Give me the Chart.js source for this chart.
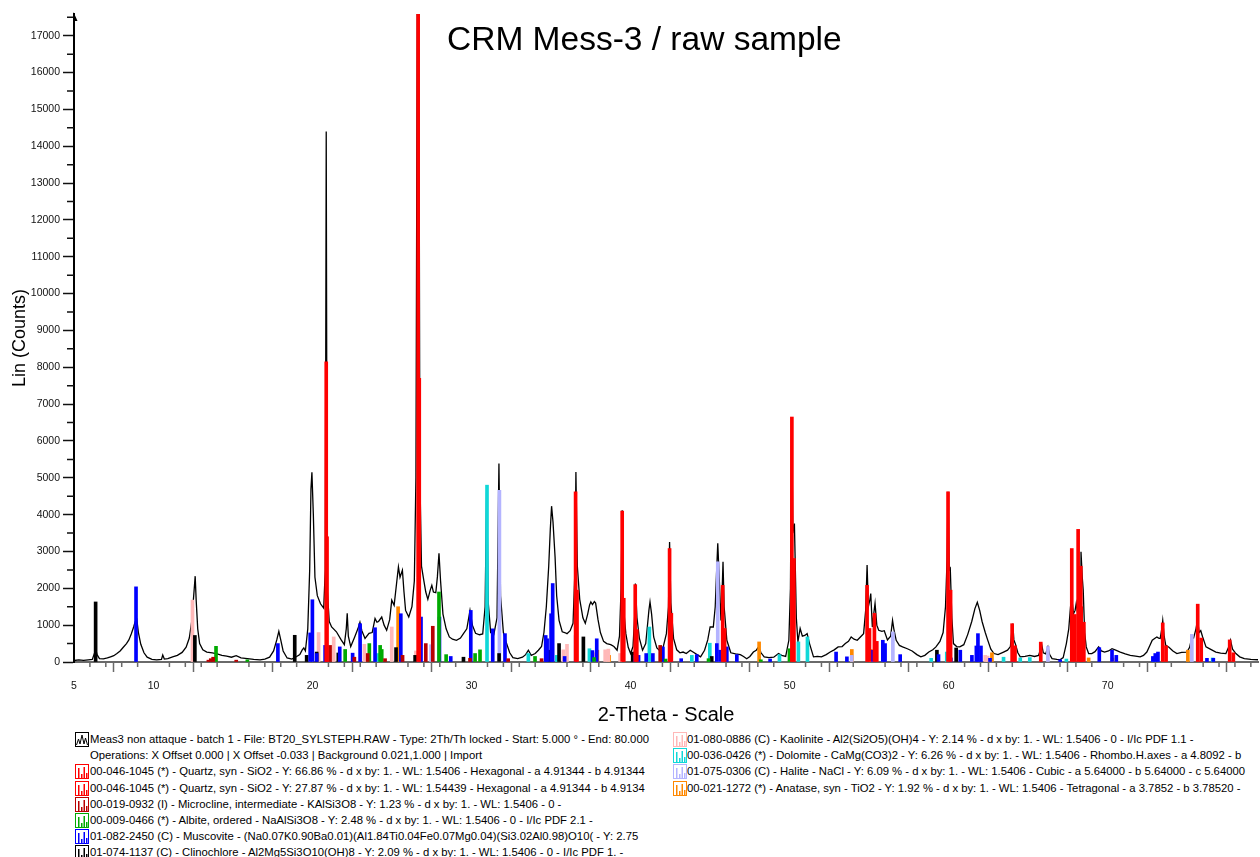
<!DOCTYPE html>
<html>
<head>
<meta charset="utf-8">
<title>CRM Mess-3 / raw sample</title>
<script src="https://cdn.jsdelivr.net/npm/chart.js@4.4.1/dist/chart.umd.min.js"></script>
<style>
  html, body { margin: 0; padding: 0; background: #fff; }
  body { font-family: "Liberation Sans", Arial, sans-serif; color: #000; }
  #wrap { position: relative; width: 1260px; height: 857px; overflow: hidden; }
  #xrd { position: absolute; left: 0; top: 0; }
  #title { position: absolute; left: 447px; top: 22px; font-size: 33.5px; line-height: 33px; white-space: nowrap; }
  .row { position: absolute; font-size: 11.3px; line-height: 16px; white-space: nowrap; }
  .row svg { position: absolute; top: 1px; }
</style>
</head>
<body>
<div id="wrap">
  <canvas id="xrd" width="1260" height="730"></canvas>
  <div id="title">CRM Mess-3 / raw sample</div>
  <div id="legend"></div>
</div>
<script>
// Measured scan: 2-theta (deg) and intensity (counts)
const measAngle = [
  5.0, 5.3, 5.6, 5.9, 6.15, 6.3, 6.36, 6.45, 6.6, 6.85, 7.1, 7.3, 7.5, 7.7, 7.9, 8.1, 8.3, 8.45, 8.6, 8.75,
  8.85, 8.95, 9.05, 9.2, 9.4, 9.6, 9.9, 10.2, 10.5, 10.58, 10.68, 10.9, 11.2, 11.5, 11.8, 12.05, 12.25, 12.4, 12.5, 12.58,
  12.62, 12.68, 12.78, 12.9, 13.1, 13.35, 13.7, 14.0, 14.3, 14.6, 14.9, 15.2, 15.5, 15.9, 16.3, 16.7, 17.0, 17.3, 17.55, 17.75,
  17.88, 18.0, 18.15, 18.4, 18.7, 19.0, 19.2, 19.35, 19.45, 19.55, 19.7, 19.82, 19.9, 19.96, 20.05, 20.15, 20.3, 20.5, 20.7, 20.8,
  20.86, 20.92, 21.05, 21.2, 21.5, 21.8, 22.0, 22.12, 22.18, 22.25, 22.4, 22.65, 22.85, 22.98, 23.1, 23.3, 23.55, 23.75, 23.93, 24.05,
  24.15, 24.35, 24.5, 24.66, 24.85, 24.98, 25.13, 25.3, 25.4, 25.5, 25.65, 25.75, 25.85, 26.05, 26.25, 26.4, 26.5, 26.64, 26.75, 26.85,
  27.0, 27.12, 27.25, 27.4, 27.5, 27.6, 27.75, 27.85, 27.95, 28.05, 28.2, 28.4, 28.6, 28.8, 29.05, 29.3, 29.5, 29.7, 29.9, 30.05,
  30.25, 30.5, 30.7, 30.85, 30.95, 31.05, 31.2, 31.4, 31.6, 31.72, 31.82, 32.0, 32.2, 32.4, 32.6, 32.9, 33.2, 33.4, 33.57, 33.75,
  34.0, 34.2, 34.4, 34.55, 34.7, 34.85, 34.95, 35.03, 35.12, 35.25, 35.35, 35.5, 35.7, 35.85, 36.0, 36.2, 36.38, 36.5, 36.56, 36.65,
  36.8, 37.0, 37.15, 37.3, 37.42, 37.5, 37.6, 37.72, 37.8, 37.95, 38.1, 38.3, 38.5, 38.75, 38.95, 39.15, 39.3, 39.4, 39.47, 39.55,
  39.7, 39.85, 40.0, 40.15, 40.25, 40.3, 40.4, 40.55, 40.75, 40.95, 41.05, 41.15, 41.22, 41.32, 41.45, 41.65, 41.8, 42.05, 42.25, 42.38,
  42.45, 42.53, 42.7, 42.9, 43.1, 43.3, 43.5, 43.75, 44.0, 44.25, 44.4, 44.65, 44.85, 45.0, 45.2, 45.32, 45.42, 45.48, 45.58, 45.68,
  45.76, 45.81, 45.88, 46.05, 46.3, 46.6, 46.9, 47.1, 47.3, 47.5, 47.72, 47.9, 48.05, 48.2, 48.4, 48.7, 49.0, 49.3, 49.5, 49.75,
  49.95, 50.05, 50.13, 50.2, 50.3, 50.42, 50.52, 50.66, 50.8, 50.95, 51.1, 51.25, 51.5, 51.75, 52.0, 52.3, 52.55, 52.8, 53.05, 53.3,
  53.5, 53.7, 53.87, 54.05, 54.25, 54.45, 54.65, 54.78, 54.87, 54.95, 55.05, 55.1, 55.2, 55.3, 55.37, 55.48, 55.6, 55.8, 55.95, 56.15,
  56.35, 56.47, 56.55, 56.7, 56.9, 57.1, 57.4, 57.7, 58.0, 58.25, 58.5, 58.75, 59.0, 59.2, 59.45, 59.65, 59.8, 59.9, 59.96, 60.04,
  60.1, 60.2, 60.3, 60.5, 60.7, 60.95, 61.2, 61.45, 61.65, 61.8, 61.95, 62.1, 62.3, 62.45, 62.65, 62.85, 63.1, 63.45, 63.7, 63.88,
  63.96, 64.03, 64.1, 64.2, 64.35, 64.5, 64.8, 65.1, 65.4, 65.65, 65.78, 65.86, 65.95, 66.1, 66.24, 66.35, 66.5, 66.8, 67.0, 67.2,
  67.4, 67.55, 67.66, 67.75, 67.85, 67.95, 68.02, 68.1, 68.18, 68.27, 68.32, 68.4, 68.46, 68.55, 68.65, 68.8, 69.0, 69.2, 69.43, 69.6,
  69.8, 70.05, 70.27, 70.5, 70.79, 71.1, 71.42, 71.75, 72.04, 72.25, 72.46, 72.65, 72.8, 72.95, 73.09, 73.2, 73.3, 73.4, 73.46, 73.55,
  73.65, 73.85, 74.1, 74.35, 74.65, 74.98, 75.15, 75.29, 75.4, 75.55, 75.65, 75.75, 75.85, 75.97, 76.18, 76.45, 76.8, 77.1, 77.43, 77.6,
  77.72, 77.85, 78.06, 78.3, 78.59, 79.0, 79.5
];
const measCounts = [
  40, 55, 45, 60, 70, 250, 360, 200, 90, 85, 110, 140, 170, 230, 300, 400, 500, 600, 760, 950,
  1100, 1150, 800, 480, 250, 130, 70, 60, 70, 190, 80, 90, 140, 180, 260, 400, 650, 1100, 1650, 2100,
  2330, 1700, 900, 500, 330, 270, 250, 220, 180, 160, 130, 170, 110, 90, 70, 60, 80, 130, 300, 600,
  830, 600, 300, 110, 80, 150, 200, 330, 380, 300, 900, 2500, 4700, 5150, 4000, 2300, 1800, 1580, 1460, 2500,
  14400, 2000, 1100, 950, 820, 600, 470, 900, 1320, 700, 420, 680, 900, 1080, 850, 640, 780, 800, 1180, 1080,
  1100, 1220, 1000, 860, 1150, 1680, 1540, 2200, 2580, 2300, 2490, 1900, 1400, 1220, 1500, 2200, 5000, 26000, 5000, 2600,
  2200, 1900, 1700, 1950, 2080, 1900, 1880, 2310, 2950, 2200, 1300, 900, 680, 620, 590, 650, 780, 900, 1400, 1000,
  780, 740, 760, 1500, 4800, 1600, 800, 750, 1200, 5390, 1800, 800, 500, 250, 120, 90, 130, 200, 320, 180,
  230, 320, 420, 800, 1500, 2600, 3600, 4230, 3800, 2850, 1800, 1130, 820, 800, 770, 850, 1050, 2500, 5160, 2600,
  1700, 1200, 1050, 1300, 1550, 1630, 1560, 1640, 1600, 1150, 800, 560, 500, 470, 420, 320, 700, 2000, 4120, 1500,
  770, 400, 230, 420, 1200, 2130, 1200, 650, 320, 500, 950, 1400, 1630, 1300, 680, 380, 320, 410, 770, 1500,
  3260, 1600, 640, 330, 250, 270, 230, 320, 250, 180, 140, 320, 600, 950, 950, 1500, 2600, 3220, 2200, 1130,
  2000, 2720, 1500, 590, 250, 220, 200, 150, 90, 150, 270, 320, 410, 250, 140, 120, 130, 230, 180, 150,
  590, 2000, 6650, 3500, 3760, 1200, 550, 910, 700, 720, 770, 500, 140, 150, 140, 200, 270, 330, 410, 420,
  500, 560, 680, 620, 590, 680, 770, 1400, 2630, 1500, 1700, 1860, 950, 1350, 1590, 1000, 860, 830, 850, 600,
  700, 1130, 900, 590, 450, 410, 360, 300, 200, 140, 180, 270, 330, 410, 560, 800, 1500, 2800, 4620, 2500,
  2540, 1200, 500, 420, 410, 470, 750, 1100, 1450, 1620, 1400, 1100, 800, 600, 350, 230, 200, 270, 320, 420,
  800, 1040, 600, 480, 250, 140, 150, 180, 150, 180, 350, 450, 250, 220, 410, 200, 90, 70, 60, 120,
  500, 900, 1500, 1700, 1310, 1400, 1590, 1350, 1300, 2200, 2990, 2300, 1950, 800, 410, 230, 230, 280, 410, 300,
  270, 300, 360, 320, 270, 220, 180, 160, 140, 180, 270, 450, 590, 640, 680, 650, 640, 900, 1130, 700,
  450, 400, 300, 230, 260, 270, 400, 680, 650, 900, 1150, 800, 850, 680, 410, 350, 270, 240, 230, 400,
  590, 350, 230, 140, 90, 70, 60
];

// Reference stick patterns, one pair of arrays per phase
const quartzAngle = [20.86, 26.64, 36.54, 39.47, 40.29, 42.45, 45.79, 50.14, 54.87, 55.33, 59.96, 63.99, 65.79, 67.74, 68.14, 68.31, 73.46, 75.66, 77.67];
const quartzCounts = [8150, 18500, 4620, 4100, 2100, 3080, 2080, 6650, 2080, 1320, 4620, 1040, 540, 3080, 3600, 2600, 1060, 1570, 600];

const quartzA2Angle = [20.91, 26.71, 36.63, 39.57, 40.39, 42.56, 45.91, 50.27, 55.02, 55.48, 60.12, 64.17, 67.93, 68.33, 68.5, 73.67, 75.88, 77.9];
const quartzA2Counts = [3400, 7700, 1950, 1730, 880, 1320, 910, 2810, 910, 560, 1950, 440, 1290, 1500, 1080, 440, 650, 250];

const microclineAngle = [13.45, 13.6, 13.75, 15.2, 21.1, 22.63, 23.47, 24.56, 25.66, 27.12, 27.56, 29.9, 32.3, 34.4, 41.86];
const microclineCounts = [50, 90, 130, 50, 450, 130, 230, 90, 180, 500, 970, 100, 90, 90, 450];

const albiteAngle = [13.93, 15.9, 22.05, 23.57, 24.25, 24.35, 27.95, 28.4, 30.22, 30.53, 33.99, 37.7, 42.2, 44.9, 48.19, 49.99];
const albiteCounts = [425, 60, 340, 500, 450, 340, 1900, 200, 230, 330, 150, 120, 80, 90, 60, 360];

const muscoviteAngle = [8.9, 17.82, 19.85, 19.99, 20.26, 20.79, 21.71, 22.52, 22.99, 23.93, 25.55, 26.7, 26.82, 27.98, 28.69, 29.95, 31.33, 32.1,
  34.66, 34.75, 35.0, 35.1, 35.85, 36.55, 37.6, 37.87, 40.28, 40.5, 40.98, 41.4, 42.03, 42.53, 43.18, 44.16, 45.42, 45.63, 46.05, 46.68,
  48.77, 52.92, 53.6, 55.23, 55.86, 56.0, 56.95, 59.36, 60.14, 60.73, 61.46, 61.74, 61.84, 62.03, 62.6, 64.04, 67.01, 69.47, 70.27, 70.54,
  72.84, 72.99, 73.16, 76.24, 76.64];
const muscoviteCounts = [2040, 500, 790, 1690, 230, 450, 410, 240, 1040, 930, 1310, 1130, 1220, 1220, 150, 1400, 900, 770,
  720, 630, 1310, 2130, 150, 720, 310, 630, 180, 180, 230, 230, 410, 720, 90, 200, 500, 320, 410, 200,
  80, 270, 140, 320, 590, 500, 200, 200, 110, 320, 180, 435, 770, 435, 100, 110, 60, 390, 320, 180,
  150, 230, 270, 100, 100];

const clinochloreAngle = [6.36, 12.6, 18.88, 19.63, 20.26, 21.62, 25.25, 26.45, 29.49, 31.73, 34.9, 35.5, 37.03, 40.13, 45.1, 59.26, 60.47];
const clinochloreCounts = [1630, 720, 725, 180, 270, 245, 390, 180, 130, 230, 320, 500, 680, 270, 150, 320, 380];

const kaoliniteAngle = [12.45, 19.9, 20.38, 21.33, 23.26, 24.98, 26.5, 34.95, 35.77, 36.0, 37.7, 38.4, 38.6, 39.34, 45.6, 55.2, 62.3, 62.45];
const kaoliniteCounts = [1680, 350, 800, 680, 480, 950, 300, 200, 330, 480, 250, 330, 350, 230, 150, 120, 180, 160];

const dolomiteAngle = [24.1, 30.97, 33.57, 35.36, 37.41, 41.18, 43.85, 44.98, 49.36, 50.55, 51.12, 58.9, 59.88, 63.45, 64.5, 65.1, 67.4, 72.9, 76.6];
const dolomiteCounts = [230, 4800, 230, 180, 360, 950, 180, 510, 200, 545, 680, 100, 270, 130, 110, 120, 80, 90, 110];

const haliteAngle = [27.45, 31.75, 45.48, 53.9, 56.49, 66.24, 75.29];
const haliteCounts = [470, 4660, 2720, 180, 815, 420, 750];

const anataseAngle = [25.38, 37.91, 38.65, 48.08, 53.91, 55.1, 62.72, 68.8, 70.3, 75.04];
const anataseCounts = [1500, 320, 180, 545, 340, 340, 250, 110, 110, 320];

// Axis ticks
const xMajorTicks = [5, 10, 15, 20, 25, 30, 35, 40, 45, 50, 55, 60, 65, 70, 75];
const xTickLabels = [5, 10, 20, 30, 40, 50, 60, 70];
const yMajorTicks = [0, 1000, 2000, 3000, 4000, 5000, 6000, 7000, 8000, 9000, 10000, 11000, 12000, 13000, 14000, 15000, 16000, 17000];

const legendLeft = [
  { color: '#000000', kind: 'scan', text: 'Meas3 non attaque - batch 1 - File: BT20_SYLSTEPH.RAW - Type: 2Th/Th locked - Start: 5.000 ° - End: 80.000' },
  { color: null, text: 'Operations: X Offset 0.000 | X Offset -0.033 | Background 0.021,1.000 | Import' },
  { color: '#ff0000', text: '00-046-1045 (*) - Quartz, syn - SiO2 - Y: 66.86 % - d x by: 1. - WL: 1.5406 - Hexagonal - a 4.91344 - b 4.91344' },
  { color: '#ff0000', text: '00-046-1045 (*) - Quartz, syn - SiO2 - Y: 27.87 % - d x by: 1. - WL: 1.54439 - Hexagonal - a 4.91344 - b 4.9134' },
  { color: '#b80000', text: '00-019-0932 (I) - Microcline, intermediate - KAlSi3O8 - Y: 1.23 % - d x by: 1. - WL: 1.5406 - 0 -' },
  { color: '#00aa00', text: '00-009-0466 (*) - Albite, ordered - NaAlSi3O8 - Y: 2.48 % - d x by: 1. - WL: 1.5406 - 0 - I/Ic PDF 2.1 -' },
  { color: '#0000ff', text: '01-082-2450 (C) - Muscovite - (Na0.07K0.90Ba0.01)(Al1.84Ti0.04Fe0.07Mg0.04)(Si3.02Al0.98)O10( - Y: 2.75' },
  { color: '#000000', text: '01-074-1137 (C) - Clinochlore - Al2Mg5Si3O10(OH)8 - Y: 2.09 % - d x by: 1. - WL: 1.5406 - 0 - I/Ic PDF 1. -' }
];
const legendRight = [
  { color: '#ffb8b8', text: '01-080-0886 (C) - Kaolinite - Al2(Si2O5)(OH)4 - Y: 2.14 % - d x by: 1. - WL: 1.5406 - 0 - I/Ic PDF 1.1 -' },
  { color: '#10d8d8', text: '00-036-0426 (*) - Dolomite - CaMg(CO3)2 - Y: 6.26 % - d x by: 1. - WL: 1.5406 - Rhombo.H.axes - a 4.8092 - b' },
  { color: '#b4b4ff', text: '01-075-0306 (C) - Halite - NaCl - Y: 6.09 % - d x by: 1. - WL: 1.5406 - Cubic - a 5.64000 - b 5.64000 - c 5.64000' },
  { color: '#ff8800', text: '00-021-1272 (*) - Anatase, syn - TiO2 - Y: 1.92 % - d x by: 1. - WL: 1.5406 - Tetragonal - a 3.7852 - b 3.78520 -' }
];

const phases = [
  { name: 'Quartz', color: '#ff0000', angle: quartzAngle, counts: quartzCounts },
  { name: 'Quartz (Ka2)', color: '#ff0000', angle: quartzA2Angle, counts: quartzA2Counts },
  { name: 'Microcline', color: '#b80000', angle: microclineAngle, counts: microclineCounts },
  { name: 'Albite', color: '#00aa00', angle: albiteAngle, counts: albiteCounts },
  { name: 'Muscovite', color: '#0000ff', angle: muscoviteAngle, counts: muscoviteCounts },
  { name: 'Clinochlore', color: '#000000', angle: clinochloreAngle, counts: clinochloreCounts },
  { name: 'Kaolinite', color: '#ffb8b8', angle: kaoliniteAngle, counts: kaoliniteCounts },
  { name: 'Dolomite', color: '#10d8d8', angle: dolomiteAngle, counts: dolomiteCounts },
  { name: 'Halite', color: '#b4b4ff', angle: haliteAngle, counts: haliteCounts },
  { name: 'Anatase', color: '#ff8800', angle: anataseAngle, counts: anataseCounts }
];

const toPoints = (xs, ys) => xs.map((x, i) => ({ x: x, y: ys[i] }));

const stickSets = phases.map((p, i) => ({
  type: 'bar',
  label: p.name,
  data: toPoints(p.angle, p.counts),
  backgroundColor: p.color,
  borderWidth: 0,
  barThickness: 3,
  order: 1 + i
}));

const scanSet = {
  type: 'line',
  label: 'Meas3',
  data: toPoints(measAngle, measCounts),
  borderColor: '#000',
  borderWidth: 1.3,
  pointRadius: 0,
  tension: 0,
  order: 50
};

// minor ticks, axis arrow
const axisExtras = {
  id: 'axisExtras',
  afterDraw(chart) {
    const { ctx, chartArea, scales } = chart;
    const x = scales.x, y = scales.y;
    ctx.save();
    ctx.lineWidth = 1.5;
    ctx.strokeStyle = '#6a6a6a';
    ctx.beginPath();
    for (let v = 6; v <= x.max; v++) {
      if (v % 5 === 0) continue;
      const px = x.getPixelForValue(v);
      ctx.moveTo(px, chartArea.bottom);
      ctx.lineTo(px, chartArea.bottom + 5);
    }
    ctx.stroke();
    ctx.strokeStyle = '#111';
    ctx.beginPath();
    for (let v = 500; v < y.max; v += 1000) {
      const py = y.getPixelForValue(v);
      ctx.moveTo(chartArea.left - 7, py);
      ctx.lineTo(chartArea.left, py);
    }
    ctx.stroke();
    ctx.fillStyle = '#000';
    ctx.beginPath();
    ctx.moveTo(chartArea.left - 0.5, chartArea.top - 2);
    ctx.lineTo(chartArea.left + 3.5, chartArea.top + 7);
    ctx.lineTo(chartArea.left - 0.5, chartArea.top + 7);
    ctx.closePath();
    ctx.fill();
    ctx.restore();
  }
};

new Chart(document.getElementById('xrd'), {
  type: 'bar',
  data: { datasets: [...stickSets, scanSet] },
  options: {
    responsive: false,
    animation: false,
    events: [],
    layout: { padding: { top: 14, right: 2, left: 0, bottom: 0 } },
    datasets: { bar: { grouped: false } },
    plugins: { legend: { display: false }, tooltip: { enabled: false } },
    scales: {
      x: {
        type: 'linear',
        min: 5,
        max: 79.45,
        offset: false,
        afterFit: (s) => { s.height = 68; },
        afterBuildTicks: (s) => { s.ticks = xMajorTicks.map(v => ({ value: v })); },
        grid: { drawOnChartArea: false, tickLength: 10, tickWidth: 1.5, tickColor: '#6a6a6a' },
        border: { color: '#6a6a6a', width: 2 },
        ticks: {
          autoSkip: false,
          maxRotation: 0,
          padding: 8,
          color: '#111',
          font: { family: 'Liberation Sans', size: 10.5 },
          callback: (v) => xTickLabels.includes(v) ? String(v) : ''
        },
        title: {
          display: true,
          text: '2-Theta - Scale',
          color: '#000',
          font: { family: 'Liberation Sans', size: 20 },
          padding: { top: 0, bottom: 3 }
        }
      },
      y: {
        min: 0,
        max: 17590,
        afterFit: (s) => { s.width = 74; },
        afterBuildTicks: (s) => { s.ticks = yMajorTicks.map(v => ({ value: v })); },
        grid: { drawOnChartArea: false, tickLength: 11, tickWidth: 1.5, tickColor: '#111' },
        border: { color: '#000', width: 2 },
        ticks: {
          padding: 3,
          color: '#111',
          font: { family: 'Liberation Sans', size: 10.5 },
          callback: (v) => String(v)
        },
        title: {
          display: true,
          text: 'Lin (Counts)',
          color: '#000',
          font: { family: 'Liberation Sans', size: 18 },
          padding: { top: 9, bottom: 0 }
        }
      }
    }
  },
  plugins: [axisExtras]
});

// Legend rows with small pattern icons
function iconSvg(color, kind) {
  if (kind === 'scan') {
    return '<svg width="14" height="15"><rect x="0.5" y="0.5" width="13" height="14" fill="none" stroke="' + color + '"/>' +
      '<polyline points="1.5,13 3.5,7 5,12 7,3 9,12 10.5,6 12.5,13" fill="none" stroke="' + color + '" stroke-width="1"/></svg>';
  }
  return '<svg width="14" height="15"><rect x="0.5" y="0.5" width="13" height="14" fill="none" stroke="' + color + '"/>' +
    '<rect x="3" y="4" width="1.5" height="10" fill="' + color + '"/>' +
    '<rect x="6" y="10" width="1.5" height="4" fill="' + color + '"/>' +
    '<rect x="8.5" y="3" width="1.5" height="11" fill="' + color + '"/>' +
    '<rect x="11" y="9" width="1.5" height="5" fill="' + color + '"/></svg>';
}

const legendEl = document.getElementById('legend');
function addRows(items, iconLeft, textLeft) {
  items.forEach((item, i) => {
    const row = document.createElement('div');
    row.className = 'row';
    row.style.top = (731 + i * 16.2) + 'px';
    row.style.left = iconLeft + 'px';
    let html = '';
    if (item.color) html += iconSvg(item.color, item.kind).replace('<svg', '<svg style="left:0"');
    html += '<span style="position:absolute;left:' + (textLeft - iconLeft) + 'px">' + item.text + '</span>';
    row.innerHTML = html;
    legendEl.appendChild(row);
  });
}
addRows(legendLeft, 75, 90);
addRows(legendRight, 673, 687);
</script>
</body>
</html>
